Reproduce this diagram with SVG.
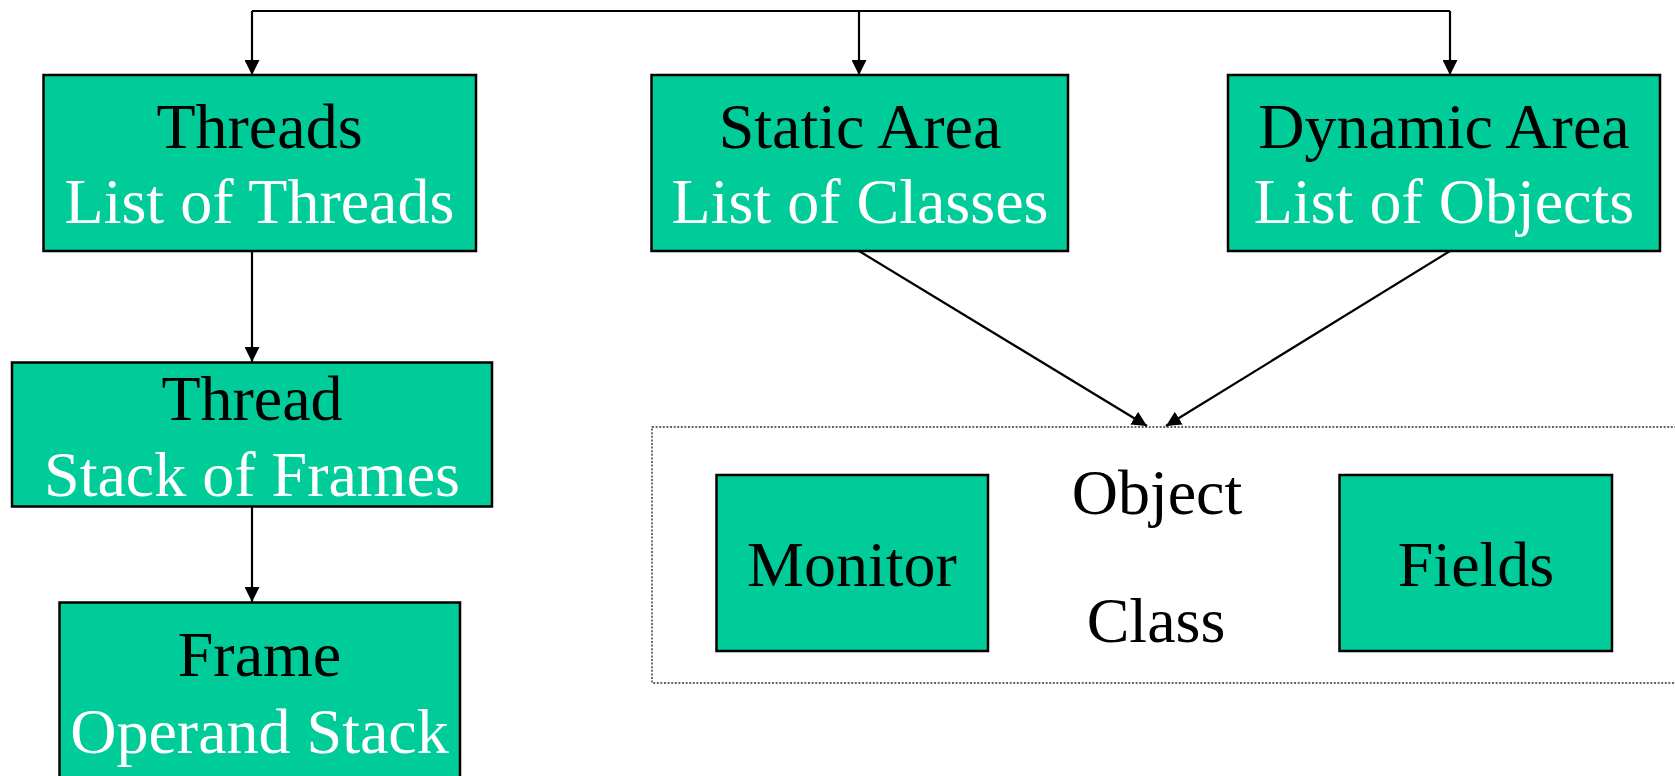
<svg xmlns="http://www.w3.org/2000/svg" width="1675" height="776" viewBox="0 0 1675 776">
<style>
.box{fill:#00CC99;stroke:#000;stroke-width:2.5}
.t{font-family:"Liberation Serif","Times New Roman",serif;font-size:64px;text-anchor:middle}
.b{fill:#000}
.w{fill:#fff}
.c{fill:none;stroke:#000;stroke-width:2.2}
</style>
<defs>
<marker id="ah" viewBox="0 0 15 15" refX="15" refY="7.5" markerWidth="15" markerHeight="15" markerUnits="userSpaceOnUse" orient="auto">
<path d="M0,0 L15,7.5 L0,15 z" fill="#000"/>
</marker>
</defs>
<rect width="1675" height="776" fill="#fff"/>
<g id="object-group">
<rect x="652" y="427" width="1040" height="256" fill="none" stroke="#333" stroke-width="1.4" stroke-dasharray="2,1.6"/>
<text class="t b" x="1157" y="514">Object</text>
<text class="t b" x="1156" y="642">Class</text>
</g>
<g id="threads">
<rect class="box" x="43.5" y="75" width="432.5" height="176"/>
<text class="t b" x="259.5" y="148">Threads</text>
<text class="t w" x="259.5" y="223">List of Threads</text>
</g>
<g id="static-area">
<rect class="box" x="651.5" y="75" width="416.5" height="176"/>
<text class="t b" x="860" y="148">Static Area</text>
<text class="t w" x="860" y="223">List of Classes</text>
</g>
<g id="dynamic-area">
<rect class="box" x="1228" y="75" width="432" height="176"/>
<text class="t b" x="1444" y="148">Dynamic Area</text>
<text class="t w" x="1444" y="223">List of Objects</text>
</g>
<g id="thread">
<rect class="box" x="12" y="362.5" width="480" height="144"/>
<text class="t b" x="252" y="420">Thread</text>
<text class="t w" x="252" y="496">Stack of Frames</text>
</g>
<g id="frame">
<rect class="box" x="59.5" y="602.5" width="400.5" height="200"/>
<text class="t b" x="259.5" y="676">Frame</text>
<text class="t w" x="259.5" y="753">Operand Stack</text>
</g>
<g id="monitor">
<rect class="box" x="716.5" y="475" width="271.5" height="176"/>
<text class="t b" x="852" y="586">Monitor</text>
</g>
<g id="fields">
<rect class="box" x="1339.5" y="475" width="272.5" height="176"/>
<text class="t b" x="1476" y="586">Fields</text>
</g>
<g id="connectors">
<path class="c" d="M252,11 H1450"/>
<path class="c" d="M252,11 V75" marker-end="url(#ah)"/>
<path class="c" d="M859,11 V75" marker-end="url(#ah)"/>
<path class="c" d="M1450,11 V75" marker-end="url(#ah)"/>
<path class="c" d="M252,251 V362" marker-end="url(#ah)"/>
<path class="c" d="M252,507 V602" marker-end="url(#ah)"/>
<path class="c" d="M859,251 L1147,426" marker-end="url(#ah)"/>
<path class="c" d="M1450,251 L1166,426" marker-end="url(#ah)"/>
</g>
</svg>
